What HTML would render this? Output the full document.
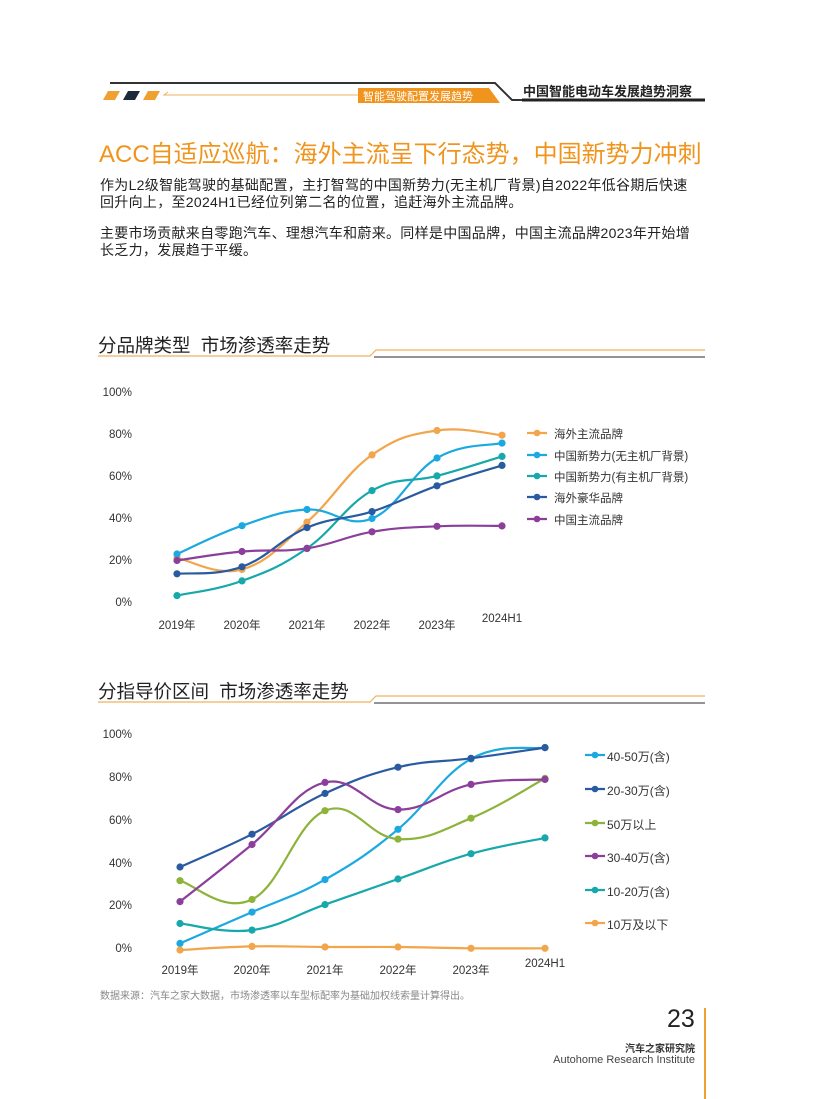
<!DOCTYPE html>
<html><head><meta charset="utf-8">
<style>
body{margin:0;background:#fff;}
#p{position:relative;width:816px;height:1099px;overflow:hidden;font-family:"Liberation Sans","Noto Sans CJK SC",sans-serif;color:#222;}
.t{position:absolute;white-space:nowrap;}
</style></head><body><div id="p">
<svg width="816" height="1099" style="position:absolute;left:0;top:0" id="svg">
<polyline points="110,83 495,83 512,100 705,100" fill="none" stroke="#333" stroke-width="2"/>
<line x1="522" y1="100" x2="705" y2="100" stroke="#222" stroke-width="3"/>
<polygon points="103,100 108,91 120,91 115,100" fill="#f0a030"/>
<polygon points="123,100 128,91 140,91 135,100" fill="#1c2a3c"/>
<polygon points="143,100 148,91 160,91 155,100" fill="#f0a030"/>
<polyline points="168,92 164,95 358,95" fill="none" stroke="#f0b060" stroke-width="1"/>
<polygon points="358,88 489,88 500,103 358,103" fill="#f0941e"/>
<polyline points="98,356 370,356 376,350 705,350" fill="none" stroke="#f0b060" stroke-width="1.2"/>
<line x1="374" y1="357" x2="705" y2="357" stroke="#555" stroke-width="1.2"/>
<polyline points="98,702 370,702 376,696 705,696" fill="none" stroke="#f0b060" stroke-width="1.2"/>
<line x1="374" y1="703" x2="705" y2="703" stroke="#555" stroke-width="1.2"/>
<line x1="705" y1="1008" x2="705" y2="1099" stroke="#f0a030" stroke-width="2"/>
<g id="g1"></g><g id="g2"></g>
</svg>
<div class="t" style="left:363px;top:88px;font-size:11px;color:#fff;">智能驾驶配置发展趋势</div>
<div class="t" style="left:523px;top:81px;font-size:13px;font-weight:bold;color:#222;">中国智能电动车发展趋势洞察</div>
<div class="t" style="left:99px;top:134px;font-size:24px;color:#f0941e;">ACC自适应巡航：海外主流呈下行态势，中国新势力冲刺</div>
<div class="t" style="left:100px;top:177px;font-size:14px;letter-spacing:0.3px;line-height:17px;color:#222;">作为L2级智能驾驶的基础配置，主打智驾的中国新势力(无主机厂背景)自2022年低谷期后快速<br>回升向上，至2024H1已经位列第二名的位置，追赶海外主流品牌。</div>
<div class="t" style="left:100px;top:225px;font-size:14px;letter-spacing:0.3px;line-height:17px;color:#222;">主要市场贡献来自零跑汽车、理想汽车和蔚来。同样是中国品牌，中国主流品牌2023年开始增<br>长乏力，发展趋于平缓。</div>
<div class="t" style="left:98px;top:332px;font-size:18.5px;color:#222;">分品牌类型&nbsp;&nbsp;市场渗透率走势</div>
<div class="t" style="left:98px;top:678px;font-size:18.5px;color:#222;">分指导价区间&nbsp;&nbsp;市场渗透率走势</div>
<div class="t" style="left:100px;top:987px;font-size:10px;color:#888;">数据来源：汽车之家大数据，市场渗透率以车型标配率为基础加权线索量计算得出。</div>
<div class="t" style="left:667px;top:1005px;font-size:25px;color:#222;">23</div>
<div class="t" style="right:121px;top:1040px;font-size:10px;color:#333;font-weight:bold;">汽车之家研究院</div>
<div class="t" style="right:121px;top:1054px;font-size:11px;color:#444;">Autohome Research Institute</div>
<div id="labels"></div>
<script>
function cr(pts){let d="M"+pts[0][0]+","+pts[0][1];for(let i=0;i<pts.length-1;i++){const p0=pts[i-1]||pts[i],p1=pts[i],p2=pts[i+1],p3=pts[i+2]||p2;const t=0.2;d+=" C"+(p1[0]+(p2[0]-p0[0])*t)+","+(p1[1]+(p2[1]-p0[1])*t)+" "+(p2[0]-(p3[0]-p1[0])*t)+","+(p2[1]-(p3[1]-p1[1])*t)+" "+p2[0]+","+p2[1];}return d;}
const NS="http://www.w3.org/2000/svg";
function el(g,tag,a){const e=document.createElementNS(NS,tag);for(const k in a)e.setAttribute(k,a[k]);g.appendChild(e);return e;}
const L=document.getElementById("labels");
function lab(x,y,txt,fs,col,anchor){const d=document.createElement("div");d.className="t";d.style.cssText="font-size:"+fs+"px;color:"+col+";top:"+(y-fs*0.6)+"px;"+(anchor=="r"?"right:"+(816-x)+"px":anchor=="c"?"left:"+(x-40)+"px;width:80px;text-align:center":"left:"+x+"px");d.textContent=txt;L.appendChild(d);}
function chart(gid,xs,y0,y100,series,leg,yl,xly,lfs){const g=document.getElementById(gid);const k=(y0-y100)/100;
for(let v=0;v<=100;v+=20)lab(132,y0-v*k,v+"%",11.5,"#333","r");
const names=["2019年","2020年","2021年","2022年","2023年","2024H1"];
names.forEach((n,i)=>lab(xs[i],xly-(i==5?4:0),n,11.5,"#333","c"));
series.forEach((s,j)=>{const pts=s.v.map((v,i)=>[xs[i],+(y0-v*k).toFixed(1)]);el(g,"path",{d:cr(pts),fill:"none",stroke:s.c,"stroke-width":2.2});pts.forEach(p=>el(g,"circle",{cx:p[0],cy:p[1],r:3.6,fill:s.c}));
const ly=leg.y[j];el(g,"line",{x1:leg.x,y1:ly,x2:leg.x+20,y2:ly,stroke:s.c,"stroke-width":2.2});el(g,"circle",{cx:leg.x+10,cy:ly,r:3.3,fill:s.c});lab(leg.x+leg.tx,ly,s.n,lfs,"#333");});}
chart("g1",[177,242,307,372,437,502],604,394,[
{n:"海外主流品牌",c:"#f2a54a",v:[22,16.5,39,71,82.6,80.4]},
{n:"中国新势力(无主机厂背景)",c:"#1ba9e0",v:[23.8,37.3,45,40.7,69.5,76.6]},
{n:"中国新势力(有主机厂背景)",c:"#17a8ab",v:[4,11,26.5,54,61,70.3]},
{n:"海外豪华品牌",c:"#2a5aa0",v:[14.4,17.7,36.4,44,56.3,66]},
{n:"中国主流品牌",c:"#8b3f9a",v:[20.7,25,26.5,34.4,37,37.2]}
],{x:527,tx:27,y:[433,455,476,497,519]},0,624,11.5);
chart("g2",[180,252,325,398,471,545],950,736,[
{n:"40-50万(含)",c:"#1ba9e0",v:[3.1,17.7,32.9,56.4,89.3,94.6]},
{n:"20-30万(含)",c:"#2a5aa0",v:[38.8,54.1,73.2,85.4,89.6,94.6]},
{n:"50万以上",c:"#8db33a",v:[32.4,23.6,65.1,51.8,61.6,80.2]},
{n:"30-40万(含)",c:"#8b3f9a",v:[22.6,49.3,78.3,65.6,77.4,79.7]},
{n:"10-20万(含)",c:"#17a8ab",v:[12.4,9.3,21.2,33.2,45,52.4]},
{n:"10万及以下",c:"#f2a54a",v:[0,1.7,1.4,1.4,0.8,0.8]}
],{x:585,tx:22,y:[755,789,823,856,890,923]},0,969,12);
</script>
</div></body></html>
